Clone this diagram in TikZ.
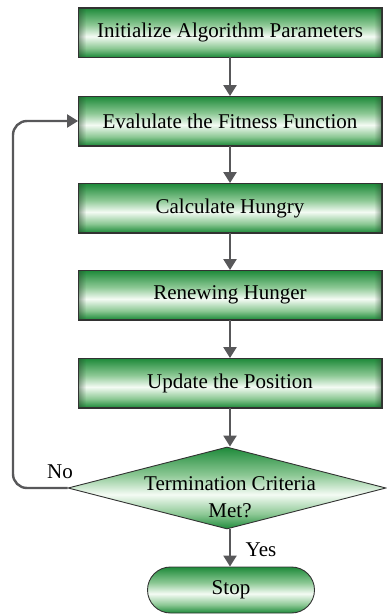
\documentclass[tikz,border=0pt]{standalone}
\usepackage{fontspec}
\setmainfont{Liberation Serif}
\usetikzlibrary{shapes.geometric,arrows.meta,fadings}
\definecolor{boxgreen}{RGB}{30,138,58}
\definecolor{boxmid}{RGB}{140,200,148}
\definecolor{boxlight}{RGB}{244,251,244}
\definecolor{arrowgray}{RGB}{88,88,90}
\definecolor{edgegray}{RGB}{50,50,50}
\definecolor{edgedark}{RGB}{40,70,45}
\pgfdeclareverticalshading{greenband}{100bp}{color(0bp)=(boxgreen); color(25bp)=(boxgreen); color(34bp)=(boxmid); color(46bp)=(boxlight); color(58bp)=(boxmid); color(75bp)=(boxgreen); color(100bp)=(boxgreen)}
\tikzset{
  procbox/.style={draw=edgegray, line width=0.9pt, minimum width=303pt, minimum height=49pt,
    shading=greenband, inner sep=0pt, font=\fontsize{21}{25}\selectfont},
  decbox/.style={diamond, draw=edgegray, line width=0.9pt, minimum width=318pt, minimum height=82pt,
    shading=greenband, inner sep=0pt},
  stopbox/.style={draw=edgegray, line width=0.9pt, minimum width=167pt, minimum height=46pt,
    rounded corners=23pt, shading=greenband, inner sep=0pt, font=\fontsize{21}{25}\selectfont},
  txt/.style={font=\fontsize{21}{27}\selectfont, inner sep=0pt},
  flow/.style={draw=arrowgray, line width=2.4pt, -{Triangle[width=13pt,length=11pt]}}
}
\begin{document}
\begin{tikzpicture}[x=1pt,y=-1pt]
\useasboundingbox (0,0) rectangle (386,615);
\node[procbox] (b1) at (230,32.5) {Initialize Algorithm Parameters};
\node[procbox] (b2) at (230,121) {Evalulate the Fitness Function};
\node[procbox] (b3) at (230,208) {Calculate Hungry};
\node[procbox] (b4) at (230,295) {Renewing Hunger};
\node[procbox] (b5) at (230,383) {Update the Position};
\foreach \n in {b1,b2,b3,b4,b5}{
  \fill[edgedark, path fading=east, fill opacity=0.5] (\n.north west) rectangle ([xshift=8pt]\n.south west);
  \fill[edgedark, path fading=west, fill opacity=0.5] ([xshift=-8pt]\n.north east) rectangle (\n.south east);
  \draw[edgegray, line width=0.9pt] (\n.north west) rectangle (\n.south east);
}
\node[decbox] (d) at (227,488) {};
\node[txt, align=center] (dt) at (230,497) {Termination Criteria\\Met?};
\node[stopbox] (s) at (231,590) {Stop};
\node[txt] (no) at (60,472) {No};
\node[txt] (yes) at (261,550) {Yes};
\coordinate (lp) at (13,488);
\draw[flow] (b1) -- (b2);
\draw[flow] (b2) -- (b3);
\draw[flow] (b3) -- (b4);
\draw[flow] (b4) -- (b5);
\draw[flow] (b5.south) -- (b5.south |- d.north);
\draw[flow] (b5.south |- d.south) -- (s.north -| b5.south);
\draw[flow, rounded corners=14pt] (d.west) -- (lp) |- (b2.west);
\end{tikzpicture}
\end{document}
